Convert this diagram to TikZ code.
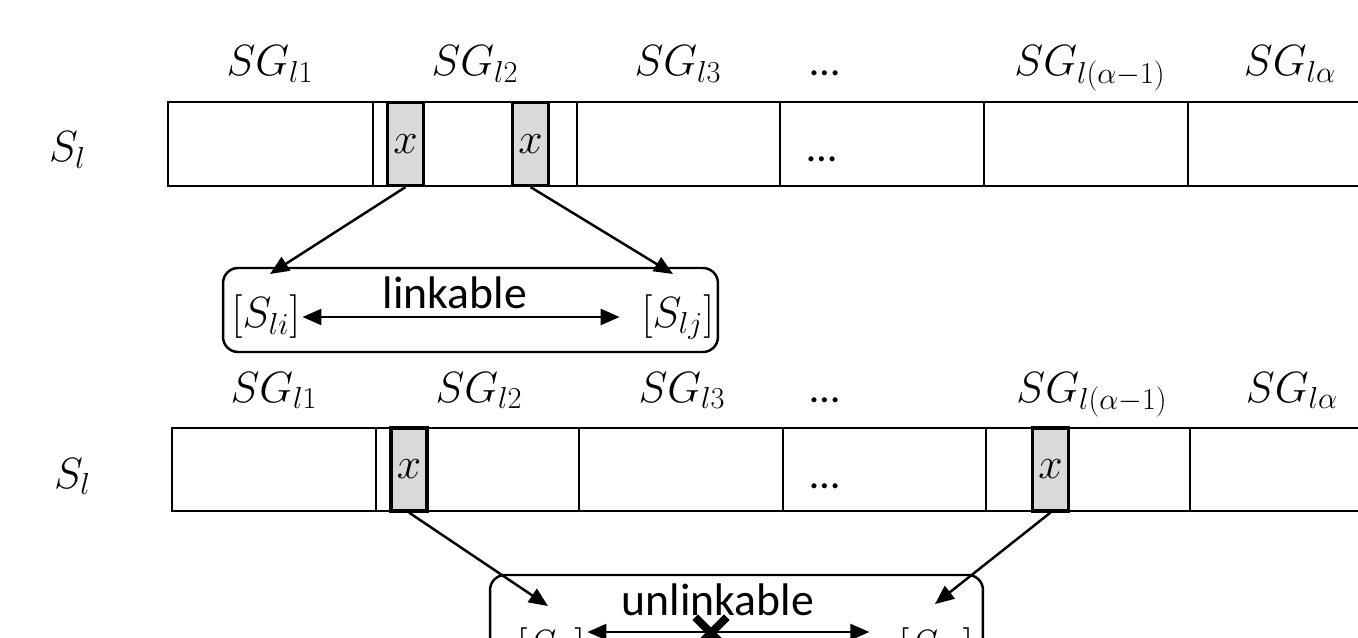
\documentclass[tikz,border=0pt]{standalone}
\usepackage{fontspec}
\setsansfont{Carlito}
\usetikzlibrary{arrows.meta}

\tikzset{
  strip/.style={line width=1.4pt},
  cell/.style={draw, fill=gray!30, line width=1.8pt, minimum width=0.72cm, minimum height=1.66cm, inner sep=0pt, font=\fontsize{24}{28}\selectfont},
  bigmath/.style={font=\fontsize{24}{28}\selectfont, inner sep=1pt},
  panel/.style={draw, line width=1.4pt, rounded corners=0.3cm, inner sep=0pt},
  caption/.style={font=\sffamily\fontsize{26}{30}\selectfont},
  dotsbox/.style={font=\sffamily\fontsize{24}{28}\selectfont, inner sep=1pt},
  arr/.style={line width=1.4pt, -{Triangle[length=0.38cm,width=0.32cm]}},
  dbl/.style={line width=1.4pt, {Triangle[length=0.38cm,width=0.32cm]}-{Triangle[length=0.38cm,width=0.32cm]}}
}

\begin{document}
\begin{tikzpicture}[x=0.02cm, y=-0.02cm]
\useasboundingbox (0,0) rectangle (1358,638);
\clip (0,0) rectangle (1358,638);

% first sequence: x in two places of the same group
\node[bigmath, anchor=base west] (s1) at (47,162) {$S_l$};
\draw[strip] (168,102) rectangle (1420,186);
\foreach \dx in {373,577,780,984,1188}
  \draw[strip] (\dx,102) -- (\dx,186);
\foreach \px/\lab in {270/SG_{l1}, 475/SG_{l2}, 678/SG_{l3}, 1090/SG_{l(\alpha-1)}, 1290/SG_{l\alpha}}
  \node[bigmath, anchor=base] (ta\px) at (\px,76) {$\lab$};
\node[dotsbox, anchor=base] (ta825) at (825,76) {…};
\node[dotsbox, anchor=base] (dots1) at (822,162) {…};
\node[cell] (g1) at (405.5,144) {$x$};
\node[cell] (g2) at (530.5,144) {$x$};

\node[panel, minimum width=9.9cm, minimum height=1.68cm] (lbox) at (470.5,310) {};
\node[bigmath] (li) at (266,317) {$[S_{li}]$};
\node[bigmath] (lj) at (678,317) {$[S_{lj}]$};
\node[caption] (link) at (455,293) {linkable};
\draw[dbl] (li.east) -- ([xshift=-0.4cm]lj.west);
\coordinate (a1) at (270,274);
\coordinate (a2) at (673,274);
\draw[arr] (g1.south) -- (a1);
\draw[arr] (g2.south) -- (a2);

% second sequence: x in two different groups
\node[bigmath, anchor=base west] (s2) at (52,488) {$S_l$};
\draw[strip] (172,428) rectangle (1420,511);
\foreach \dx in {376,579,783,986,1190}
  \draw[strip] (\dx,428) -- (\dx,511);
\foreach \px/\lab in {274/SG_{l1}, 479/SG_{l2}, 682/SG_{l3}, 1092/SG_{l(\alpha-1)}, 1292/SG_{l\alpha}}
  \node[bigmath, anchor=base] (tb\px) at (\px,402) {$\lab$};
\node[dotsbox, anchor=base] (tb825) at (825,402) {…};
\node[dotsbox, anchor=base] (dots2) at (825,488) {…};
\node[cell] (g3) at (409,469.5) {$x$};
\node[cell] (g4) at (1050.5,469.5) {$x$};

\node[panel, minimum width=9.86cm, minimum height=1.8cm] (ubox) at (736.5,620) {};
\node[bigmath] (uli) at (551,650) {$[S_{li}]$};
\node[bigmath] (ulk) at (936,650) {$[S_{lk}]$};
\node[caption] (unlink) at (718,600) {unlinkable};
\draw[dbl, shorten >=0.54cm] ([yshift=0.36cm]uli.east) -- ([yshift=0.36cm]ulk.west);
\node[minimum size=0.62cm, inner sep=0pt] (nolink) at (711,633) {};
\draw[line width=4.6pt] (nolink.north west) -- (nolink.south east);
\draw[line width=4.6pt] (nolink.north east) -- (nolink.south west);
\coordinate (a3) at (548,606);
\coordinate (a4) at (935,604);
\draw[arr] (g3.south) -- (a3);
\draw[arr] (g4.south) -- (a4);
\end{tikzpicture}
\end{document}
